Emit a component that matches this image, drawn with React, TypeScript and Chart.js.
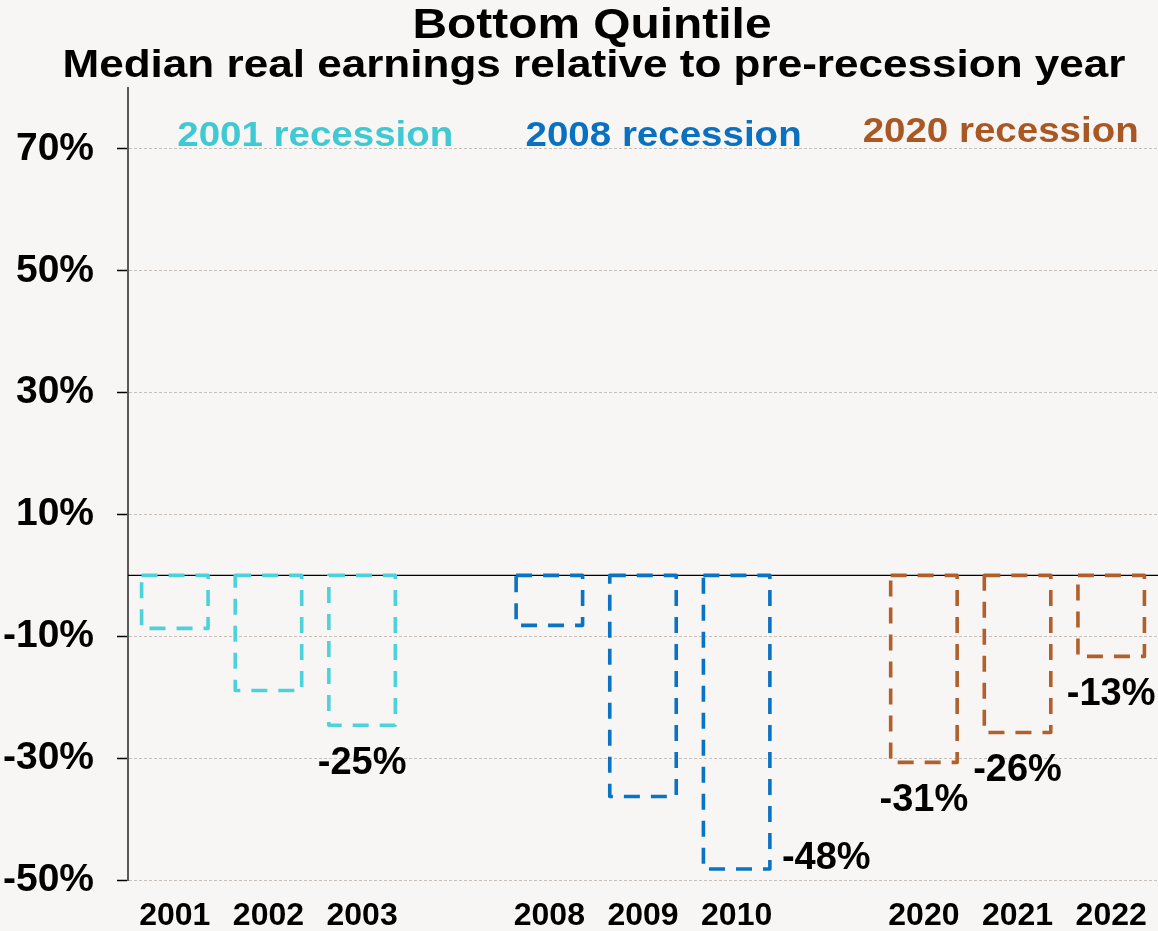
import React, { useEffect, useRef } from 'react';
import { Chart, registerables } from 'chart.js';

Chart.register(...registerables);

const categories = ['2001', '2002', '2003', '', '2008', '2009', '2010', '', '2020', '2021', '2022'];
const values: (number | null)[] = [-8.7, -18.9, -24.6, null, -8.2, -36.3, -48.2, null, -30.7, -25.8, -13.3];
const barColors = ['#4DD2DB', '#4DD2DB', '#4DD2DB', '#000', '#0B73C4', '#0B73C4', '#0B73C4', '#000', '#B0602C', '#B0602C', '#B0602C'];
const labelPlacement = ['', '', 'below', '', '', '', 'right', '', 'below', 'below', 'below'];
const yTicks = [-50, -30, -10, 10, 30, 50, 70];

const recessionNames = ['2001 recession', '2008 recession', '2020 recession'];
const recessionColors = ['#3FC9D2', '#0A70C0', '#A95824'];
const recessionAt = [1.5, 5.22, 8.82];
const recessionY = [70.4, 70.4, 71.2];

const titleText = 'Bottom Quintile';
const subtitleText = 'Median real earnings relative to pre-recession year';

const FONT = '"Liberation Sans", Arial, Helvetica, sans-serif';
const BG = '#F7F6F4';

export default function App() {
  const ref = useRef<HTMLCanvasElement | null>(null);

  useEffect(() => {
    document.body.style.margin = '0';
    document.body.style.background = BG;
    const canvas = ref.current;
    if (!canvas) return;

    const deco = {
      id: 'deco',
      beforeDraw(chart: any) {
        const ctx = chart.ctx;
        ctx.save();
        ctx.fillStyle = BG;
        ctx.fillRect(0, 0, chart.width, chart.height);
        ctx.restore();
      },
      beforeDatasetsDraw(chart: any) {
        const ctx = chart.ctx;
        const y0 = chart.scales.y.getPixelForValue(0);
        ctx.save();
        ctx.strokeStyle = '#000';
        ctx.lineWidth = 1.3;
        ctx.beginPath();
        ctx.moveTo(chart.chartArea.left, y0);
        ctx.lineTo(chart.chartArea.right, y0);
        ctx.stroke();
        ctx.restore();
      },
      afterDatasetsDraw(chart: any) {
        const ctx = chart.ctx;
        const meta = chart.getDatasetMeta(0);
        ctx.save();
        meta.data.forEach((el: any, i: number) => {
          const v = values[i];
          if (v === null || v === undefined) return;
          const p = el.getProps(['x', 'y', 'base', 'width'], true);
          const l = p.x - p.width / 2;
          const r = p.x + p.width / 2;
          const top = Math.min(p.y, p.base);
          const bot = Math.max(p.y, p.base);
          ctx.strokeStyle = barColors[i];
          ctx.lineWidth = 3.6;
          ctx.lineJoin = 'round';
          ctx.setLineDash([16, 11]);
          ctx.beginPath();
          ctx.moveTo(l, top);
          ctx.lineTo(r, top);
          ctx.lineTo(r, bot);
          ctx.lineTo(l, bot);
          ctx.closePath();
          ctx.stroke();
        });
        ctx.setLineDash([]);
        ctx.fillStyle = '#000';
        ctx.font = `bold 38px ${FONT}`;
        ctx.textBaseline = 'middle';
        meta.data.forEach((el: any, i: number) => {
          const v = values[i];
          const mode = labelPlacement[i];
          if (v === null || !mode) return;
          const p = el.getProps(['x', 'y', 'base', 'width'], true);
          const txt = Math.round(v) + '%';
          if (mode === 'below') {
            ctx.textAlign = 'center';
            let cx = p.x;
            const w = ctx.measureText(txt).width;
            if (cx + w / 2 > chart.width - 2) cx = chart.width - 2 - w / 2;
            ctx.fillText(txt, cx, p.y + 38);
          } else {
            ctx.textAlign = 'left';
            ctx.fillText(txt, p.x + p.width / 2 + 12, p.y - 11);
          }
        });
        ctx.restore();
      },
      afterDraw(chart: any) {
        const ctx = chart.ctx;
        const cx = chart.width / 2 + 13;
        ctx.save();
        ctx.fillStyle = '#000';
        ctx.textAlign = 'center';
        ctx.textBaseline = 'alphabetic';
        ctx.font = `bold 42px ${FONT}`;
        ctx.save();
        ctx.translate(cx, 38);
        ctx.scale(1.14, 1);
        ctx.fillText(titleText, 0, 0);
        ctx.restore();
        ctx.font = `bold 39px ${FONT}`;
        ctx.save();
        ctx.translate(cx + 2, 77);
        ctx.scale(1.13, 1);
        ctx.fillText(subtitleText, 0, 0);
        ctx.restore();

        const xs = chart.scales.x;
        const ys = chart.scales.y;
        ctx.font = `bold 35px ${FONT}`;
        recessionNames.forEach((name, i) => {
          ctx.save();
          ctx.fillStyle = recessionColors[i];
          ctx.translate(xs.getPixelForValue(recessionAt[i]), ys.getPixelForValue(recessionY[i]));
          ctx.scale(1.1, 1);
          ctx.fillText(name, 0, 0);
          ctx.restore();
        });
        ctx.restore();
      },
    };

    const chart = new Chart(canvas, {
      type: 'bar',
      data: {
        labels: categories,
        datasets: [
          {
            data: values,
            backgroundColor: 'rgba(0,0,0,0)',
            borderWidth: 0,
            barPercentage: 0.71,
            categoryPercentage: 1.0,
          },
        ],
      },
      options: {
        responsive: false,
        animation: false,
        events: [],
        layout: { padding: { top: 88, right: 0, bottom: 0, left: 0 } },
        plugins: {
          legend: { display: false },
          tooltip: { enabled: false },
          title: { display: false },
        },
        scales: {
          x: {
            grid: { display: false },
            border: { display: false },
            ticks: {
              autoSkip: false,
              maxRotation: 0,
              color: '#000',
              padding: 9,
              font: { family: FONT, size: 32, weight: 'bold' },
            },
            afterFit(scale: any) {
              scale.height = 51;
            },
          },
          y: {
            min: -50,
            max: 80,
            afterBuildTicks(scale: any) {
              scale.ticks = yTicks.map((v) => ({ value: v }));
            },
            afterFit(scale: any) {
              scale.width = 128;
            },
            grid: {
              color: '#C9C1B9',
              lineWidth: 1,
              tickColor: '#000',
              tickLength: 11,
              tickWidth: 1.5,
              tickBorderDash: [],
            },
            border: { display: true, color: '#5A5A5A', width: 2, dash: [3, 2] },
            ticks: {
              color: '#000',
              padding: 23,
              font: { family: FONT, size: 39, weight: 'bold' },
              callback: (v: any) => v + '%',
            },
          },
        },
      },
      plugins: [deco],
    } as any);

    return () => chart.destroy();
  }, []);

  return (
    <div style={{ width: 1158, height: 931, background: BG }}>
      <canvas ref={ref} width={1158} height={931} style={{ display: 'block' }} />
    </div>
  );
}
